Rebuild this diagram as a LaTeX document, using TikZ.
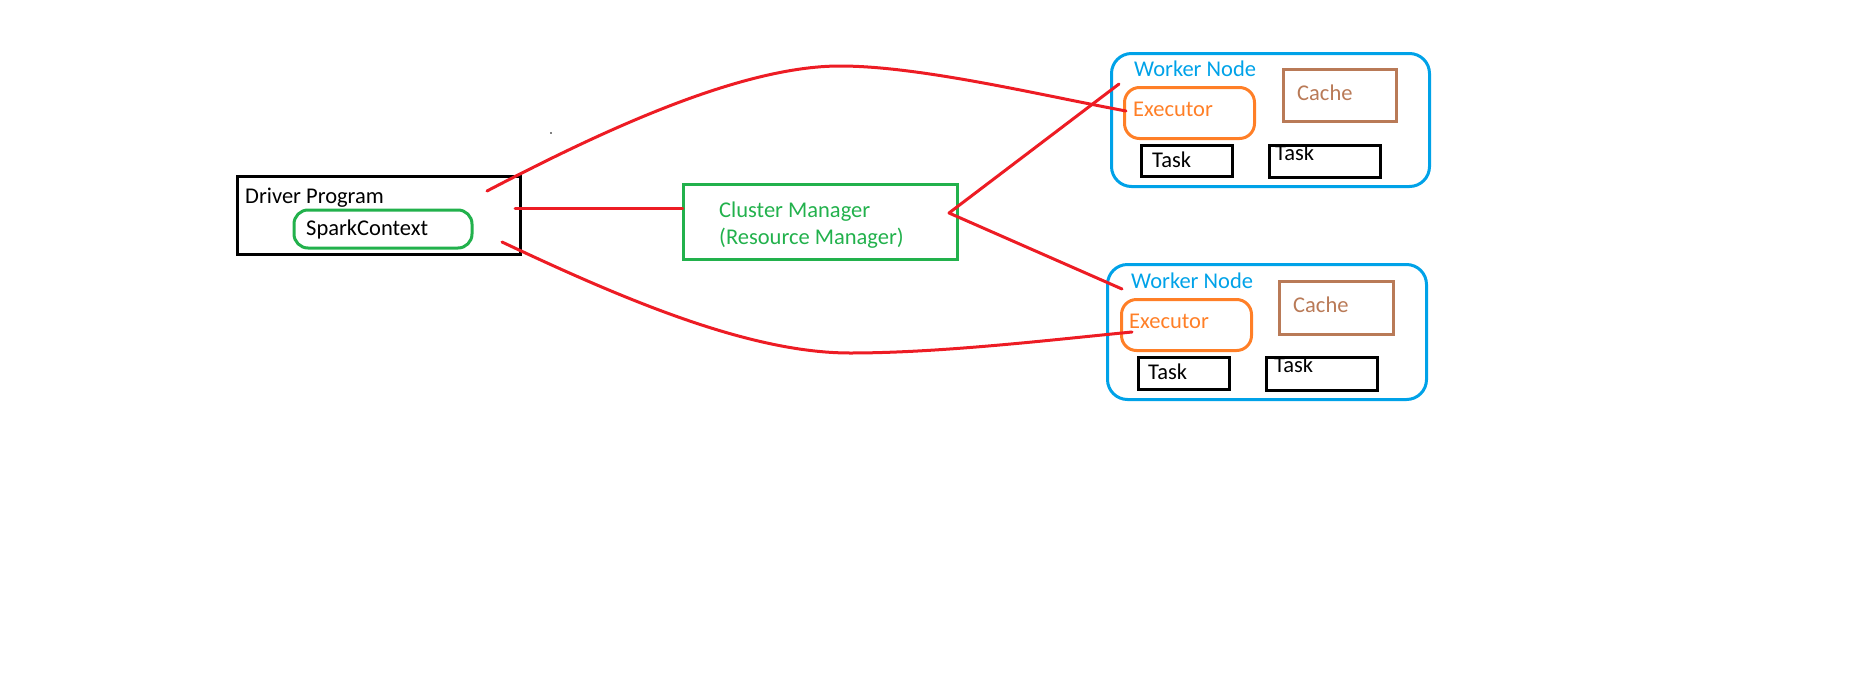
\documentclass[tikz,border=0pt]{standalone}
\usepackage{fontspec}
\setmainfont{Carlito}
\definecolor{pred}{HTML}{ED1C24}
\definecolor{pgreen}{HTML}{22B14C}
\definecolor{pblue}{HTML}{00A2E8}
\definecolor{porange}{HTML}{FF7F27}
\definecolor{pbrown}{HTML}{B97A57}
\tikzset{
  box/.style={draw, line width=3pt, inner sep=0pt, minimum width=#1},
  lbl/.style={inner sep=0pt, anchor=base west, font=\fontsize{22.5}{27}\selectfont},
  conn/.style={draw=pred, line width=3pt, line cap=round, line join=round},
}
\begin{document}
\begin{tikzpicture}[x=1pt,y=-1pt]
\useasboundingbox (0,0) rectangle (1850,691);
% Driver
\node[box=283pt, minimum height=78pt, draw=black] (driver) at (378.5,215.5) {};
\node[lbl] (drivert) at (245,203) {Driver Program};
\node[box=178pt, minimum height=38pt, draw=pgreen, rounded corners=14pt] (sc) at (383,229) {};
\node[lbl] (sct) at (306,235) {SparkContext};
% Cluster manager
\node[box=274pt, minimum height=75pt, draw=pgreen] (cluster) at (820,221.5) {};
\node[lbl, text=pgreen] (clt1) at (719,217) {Cluster Manager};
\node[lbl, text=pgreen] (clt2) at (719,244) {(Resource Manager)};
% Worker 1
\node[box=318pt, minimum height=133pt, draw=pblue, rounded corners=20pt] (w1) at (1270.5,120) {};
\node[lbl, text=pblue] (w1t) at (1134,76) {Worker Node};
\node[box=130pt, minimum height=51pt, draw=porange, rounded corners=15pt] (e1) at (1189.5,113) {};
\node[lbl, text=porange] (e1t) at (1133,116) {Executor};
\node[box=113pt, minimum height=52pt, draw=pbrown] (c1) at (1340,95.5) {};
\node[lbl, text=pbrown] (c1t) at (1297,100) {Cache};
\node[box=91pt, minimum height=31pt, draw=black] (t1a) at (1187,161) {};
\node[lbl] (t1at) at (1152,167) {Task};
\node[box=111pt, minimum height=32pt, draw=black] (t1b) at (1325,161.5) {};
\node[lbl] (t1bt) at (1275,160) {Task};
% Worker 2
\node[box=319pt, minimum height=135pt, draw=pblue, rounded corners=20pt] (w2) at (1267,332) {};
\node[lbl, text=pblue] (w2t) at (1131,288) {Worker Node};
\node[box=130pt, minimum height=51pt, draw=porange, rounded corners=15pt] (e2) at (1186.5,325) {};
\node[lbl, text=porange] (e2t) at (1129,328) {Executor};
\node[box=114pt, minimum height=53pt, draw=pbrown] (c2) at (1336.5,308) {};
\node[lbl, text=pbrown] (c2t) at (1293,312) {Cache};
\node[box=91pt, minimum height=32pt, draw=black] (t2a) at (1184,373.5) {};
\node[lbl] (t2at) at (1148,379) {Task};
\node[box=111pt, minimum height=33pt, draw=black] (t2b) at (1322,374) {};
\node[lbl] (t2bt) at (1274,372) {Task};
% stray dot
\fill[black] (551,133) circle (0.9pt);
% connectors
\draw[conn] ([shift={(108.5,-24.5)}]driver.center)
   .. controls (600,132) and (740,66) .. (840,66)
   .. controls (920,66) and (1040,95) .. ([shift={(-63.5,-2)}]e1.center);
\draw[conn] ([shift={(136.5,-7.5)}]driver.center) -- ([shift={(1,-13.5)}]cluster.west);
\draw[conn] ([shift={(123.5,26.5)}]driver.center)
   .. controls (625,300) and (750,353) .. (850,353)
   .. controls (940,353) and (1050,340) .. ([shift={(-54.5,7)}]e2.center);
\draw[conn] ([shift={(-151.5,-36)}]w1.center) -- ([shift={(129,-8.5)}]cluster.center) -- ([shift={(-145,-43)}]w2.center);
\end{tikzpicture}
\end{document}
